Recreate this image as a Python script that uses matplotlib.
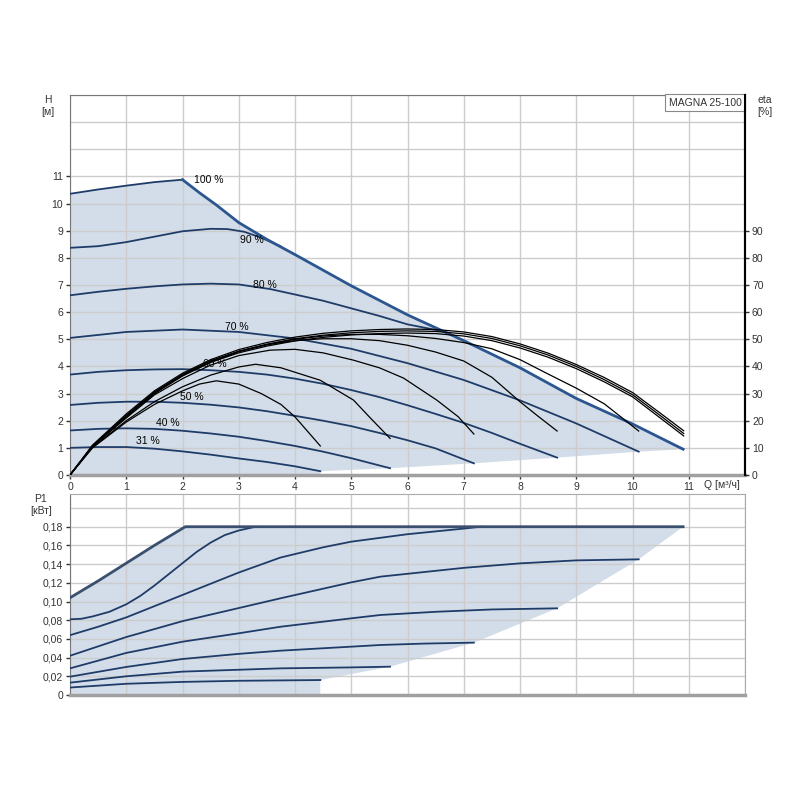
import matplotlib
matplotlib.use('Agg')
import matplotlib.pyplot as plt
import numpy as np

plt.rcParams['font.family'] = ['Liberation Sans', 'DejaVu Sans']

# ---- head curves H [m] over Q [m3/h] ----
q_max = [2.0, 2.3, 2.6, 3.0, 3.5, 4.0, 5.0, 6.0, 7.0, 8.0, 9.0, 10.0, 10.9]
h_max = [10.88, 10.4, 9.95, 9.3, 8.68, 8.12, 6.97, 5.9, 4.95, 3.95, 2.82, 1.88, 0.95]

q100 = [0, 0.5, 1, 1.5, 2.0]
h100 = [10.36, 10.52, 10.66, 10.79, 10.88]
q90 = [0, 0.5, 1, 1.5, 2, 2.5, 2.8, 3.1, 3.4, 3.75]
h90 = [8.37, 8.43, 8.58, 8.78, 8.98, 9.07, 9.06, 8.96, 8.74, 8.42]
q80 = [0, 0.5, 1, 1.5, 2, 2.5, 3, 3.56, 4, 4.5, 5, 5.5, 6, 6.64]
h80 = [6.62, 6.75, 6.86, 6.95, 7.02, 7.05, 7.02, 6.85, 6.65, 6.42, 6.14, 5.86, 5.55, 5.29]
q70 = [0, 1, 2, 3, 4, 5, 6, 7, 8, 9, 10.11]
h70 = [5.05, 5.27, 5.36, 5.27, 5.03, 4.65, 4.12, 3.5, 2.75, 1.9, 0.86]
q60 = [0, 0.5, 1, 1.5, 2, 2.5, 3, 3.5, 4, 4.5, 5, 5.5, 6, 6.5, 7, 7.5, 8, 8.66]
h60 = [3.70, 3.80, 3.86, 3.89, 3.90, 3.86, 3.80, 3.70, 3.55, 3.36, 3.13, 2.87, 2.57, 2.25, 1.92, 1.55, 1.15, 0.64]
q50 = [0, 0.5, 1, 1.5, 2, 2.5, 3, 3.5, 4, 4.5, 5, 5.5, 6, 6.5, 7.18]
h50 = [2.58, 2.66, 2.70, 2.70, 2.66, 2.59, 2.49, 2.35, 2.18, 2.0, 1.80, 1.55, 1.28, 0.98, 0.43]
q40 = [0, 0.5, 1, 1.5, 2, 2.5, 3, 3.5, 4, 4.5, 5, 5.69]
h40 = [1.64, 1.70, 1.72, 1.70, 1.63, 1.53, 1.41, 1.25, 1.07, 0.86, 0.62, 0.25]
q31 = [0, 0.5, 1, 1.5, 2, 2.5, 3, 3.5, 4, 4.45]
h31 = [1.0, 1.03, 1.03, 0.97, 0.87, 0.75, 0.61, 0.48, 0.32, 0.14]

# lower edge of the operating area (curve ends)
q_end = [10.9, 10.11, 8.66, 7.18, 5.69, 4.45]
h_end = [0.95, 0.86, 0.64, 0.43, 0.25, 0.14]

# ---- efficiency eta [%] ----
qe100 = [0, 0.4, 1, 1.5, 2, 2.5, 3, 3.5, 4, 4.5, 5, 5.5, 6, 6.5, 7, 7.5, 8, 8.5, 9, 9.5, 10, 10.5, 10.91]
e100 = [0, 11, 22.5, 31, 37.5, 42.5, 46.2, 48.8, 50.8, 52.2, 53.1, 53.6, 53.8, 53.6, 52.7, 51.0, 48.3, 44.9, 40.7, 35.9, 30.4, 22.7, 16.3]
e90 = [0, 10.8, 22, 30.6, 37, 42, 45.6, 48.2, 50.2, 51.5, 52.4, 52.9, 53.1, 52.9, 52.0, 50.3, 47.6, 44.2, 40.0, 35.1, 29.6, 21.8, 15.3]
e80 = [0, 10.6, 21.6, 30.2, 36.6, 41.5, 45.0, 47.5, 49.4, 50.7, 51.6, 52.1, 52.3, 52.1, 51.2, 49.5, 46.8, 43.4, 39.2, 34.3, 28.8, 20.9, 14.4]
qe70 = [0, 0.4, 1, 1.5, 2, 2.5, 3, 3.5, 4, 4.5, 5, 5.5, 6, 6.5, 7, 7.5, 8, 8.5, 9, 9.5, 10.11]
e70 = [0, 10.5, 21.5, 30, 37, 42, 45.5, 48, 50, 51.2, 51.8, 51.8, 51.3, 50.3, 48.8, 46.5, 42.5, 37.2, 32, 26.2, 16.2]
qe60 = [0, 0.4, 1, 1.5, 2, 2.5, 3, 3.5, 4, 4.5, 5, 5.5, 6, 6.5, 7, 7.5, 8, 8.3, 8.66]
e60 = [0, 10.5, 21.5, 30, 36.5, 41.5, 45.5, 48, 49.5, 50.2, 50.2, 49.5, 47.8, 45.3, 42, 36, 27, 22, 16.2]
qe50 = [0, 0.4, 1, 1.5, 2, 2.5, 3, 3.56, 4.0, 4.5, 5.04, 5.5, 5.93, 6.52, 6.9, 7.18]
e50 = [0, 10.5, 21, 29.5, 35.5, 40.5, 44, 46, 46.3, 45, 42.3, 39.5, 35.7, 27.6, 21.5, 15.1]
qe40 = [0, 0.4, 1, 1.5, 2, 2.5, 3, 3.3, 3.75, 4.45, 5.04, 5.34, 5.69]
e40 = [0, 10.2, 20, 27, 32.5, 36.8, 39.8, 40.8, 39.5, 34.9, 27.6, 21, 13.5]
qe31 = [0, 0.4, 1, 1.5, 2, 2.3, 2.6, 3, 3.4, 3.75, 4.0, 4.45]
e31 = [0, 10, 19.5, 26, 31, 33.5, 34.7, 33.5, 30, 26, 21.4, 10.7]

# ---- power input P1 [kW] ----
qp100 = [0, 0.5, 1, 1.5, 2.05, 10.9]
p100 = [0.104, 0.122, 0.141, 0.160, 0.180, 0.180]
qp90 = [0, 0.2, 0.4, 0.7, 1, 1.25, 1.5, 1.75, 2, 2.25, 2.5, 2.75, 3, 3.3]
p90 = [0.081, 0.0815, 0.084, 0.089, 0.097, 0.106, 0.117, 0.129, 0.141, 0.153, 0.163, 0.171, 0.176, 0.180]
qp80 = [0, 0.5, 1, 1.5, 2, 2.5, 3, 3.74, 4.5, 5, 5.5, 6, 6.5, 7, 7.3]
p80 = [0.064, 0.073, 0.083, 0.095, 0.107, 0.119, 0.131, 0.147, 0.158, 0.164, 0.168, 0.172, 0.175, 0.178, 0.180]
qp70 = [0, 1, 2, 3, 3.74, 5, 5.52, 7, 8, 9, 10.11]
p70 = [0.042, 0.062, 0.079, 0.093, 0.1034, 0.1205, 0.1266, 0.136, 0.1408, 0.144, 0.1451]
qp60 = [0, 1, 2, 3, 3.74, 5, 5.52, 6.5, 7.5, 8.66]
p60 = [0.0285, 0.045, 0.057, 0.066, 0.073, 0.082, 0.0856, 0.089, 0.0915, 0.0927]
qp50 = [0, 1, 2, 3, 3.74, 5, 5.52, 6.3, 7.18]
p50 = [0.0196, 0.030, 0.0385, 0.044, 0.0474, 0.0517, 0.0535, 0.055, 0.056]
qp40 = [0, 1, 2, 3, 3.74, 4.98, 5.69]
p40 = [0.0132, 0.020, 0.025, 0.027, 0.0285, 0.0295, 0.0303]
qp31 = [0, 1, 2, 3, 4.45]
p31 = [0.008, 0.012, 0.014, 0.0152, 0.016]
p_end = [0.180, 0.1451, 0.0927, 0.056, 0.0303, 0.016]

labels = ['100 %', '90 %', '80 %', '70 %', '60 %', '50 %', '40 %', '31 %']
label_q = [2.2, 3.23, 3.47, 2.97, 2.58, 2.17, 1.73, 1.39]
label_h = [10.88, 8.64, 6.99, 5.44, 4.08, 2.87, 1.91, 1.25]

fill_c = '#d3dde9'
line_c = '#1f3c68'
grid_c = '#cccccc'
txt_c = '#333333'
fs = 7.5

fig = plt.figure(figsize=(8, 8), dpi=100)
ax = fig.add_axes([0.0875, 0.40625, 0.84375, 0.475])
axp = fig.add_axes([0.0875, 0.13125, 0.84375, 0.25125])

# ---------- top: H ----------
poly_q = [0] + q100 + q_max[1:] + q_end[1:] + [q_end[-1], 0]
poly_h = [0] + h100 + h_max[1:] + h_end[1:] + [0, 0]
ax.fill(poly_q, poly_h, color=fill_c, lw=0, zorder=1)

for q, h in [(q100, h100), (q90, h90), (q80, h80), (q70, h70), (q60, h60),
             (q50, h50), (q40, h40), (q31, h31)]:
    ax.plot(q, h, color=line_c, lw=1.3, zorder=3, solid_joinstyle='round')
ax.plot(q_max, h_max, color='#2b5690', lw=2.0, zorder=3, solid_joinstyle='round')

for t, x, y in zip(labels, label_q, label_h):
    ax.text(x, y, t, fontsize=fs, color='black', ha='left' if t == '100 %' else 'center',
            va='center', zorder=5)

ax.set_xlim(0, 12)
ax.set_ylim(0, 14)
ax.set_xticks(range(0, 12))
ax.set_xticks(range(0, 13), minor=True)
ax.set_yticks(range(0, 12))
ax.set_yticks(range(0, 15), minor=True)
ax.grid(True, which='both', color=grid_c, lw=1.0, zorder=2)
ax.tick_params(which='minor', length=0)
ax.tick_params(labelsize=fs, colors=txt_c, length=3, width=1, pad=2)
for s in ['top', 'left']:
    ax.spines[s].set_color('#777777')
ax.spines['right'].set_color('black')
ax.spines['right'].set_linewidth(1.5)
ax.spines['bottom'].set_color('#a0a0a0')
ax.spines['bottom'].set_linewidth(2.5)
ax.text(-0.033, 1.0, 'H\n[м]', transform=ax.transAxes, fontsize=fs, color=txt_c,
        ha='center', va='top', linespacing=1.3)
ax.text(0.94, -0.012, 'Q [м³/ч]', transform=ax.transAxes, fontsize=fs, color=txt_c,
        ha='left', va='top')
ax.text(0.995, 0.993, 'MAGNA 25-100', transform=ax.transAxes, fontsize=fs,
        color=txt_c, ha='right', va='top', zorder=6,
        bbox=dict(boxstyle='square,pad=0.35', fc='white', ec='#888888', lw=0.8))

# efficiency on right axis
ae = ax.twinx()
ae.set_ylim(0, 140)
ae.set_yticks(range(0, 100, 10))
for q, e in [(qe100, e100), (qe100, e90), (qe100, e80), (qe70, e70), (qe60, e60),
             (qe50, e50), (qe40, e40), (qe31, e31)]:
    ae.plot(q, e, color='black', lw=0.9, zorder=4, solid_joinstyle='round')
ae.tick_params(labelsize=fs, colors=txt_c, length=3, width=1, pad=2)
ae.spines['right'].set_color('black')
ae.spines['right'].set_linewidth(1.5)
for s in ['top', 'left', 'bottom']:
    ae.spines[s].set_visible(False)
ae.text(1.03, 1.0, 'eta\n[%]', transform=ae.transAxes, fontsize=fs, color=txt_c,
        ha='center', va='top', linespacing=1.3)

# ---------- bottom: P1 ----------
ppoly_q = [0] + qp100 + q_end[1:] + [q_end[-1], 0]
ppoly_p = [0] + p100 + p_end[1:] + [0, 0]
axp.fill(ppoly_q, ppoly_p, color=fill_c, lw=0, zorder=1)
for q, p in [(qp90, p90), (qp80, p80), (qp70, p70), (qp60, p60),
             (qp50, p50), (qp40, p40), (qp31, p31)]:
    axp.plot(q, p, color=line_c, lw=1.3, zorder=3, solid_joinstyle='round')
axp.plot(qp100, p100, color='#3a506e', lw=2.0, zorder=3)

axp.set_xlim(0, 12)
axp.set_ylim(0, 0.215)
axp.set_xticks(range(0, 13))
axp.set_xticklabels([])
pt = np.arange(0, 0.19, 0.02)
axp.set_yticks(pt)
axp.set_yticklabels(['0'] + [('%.2f' % v).replace('.', ',') for v in pt[1:]])
axp.set_yticks([0.20], minor=True)
axp.grid(True, which='both', color=grid_c, lw=1.0, zorder=2)
axp.tick_params(which='minor', length=0)
axp.tick_params(axis='x', length=0)
axp.tick_params(axis='y', labelsize=fs, colors=txt_c, length=3, width=1, pad=2)
for s in ['top', 'right']:
    axp.spines[s].set_color('#aaaaaa')
axp.spines['left'].set_color('#777777')
axp.spines['bottom'].set_color('#a0a0a0')
axp.spines['bottom'].set_linewidth(2.5)
axp.text(-0.043, 1.0, 'P1\n[кВт]', transform=axp.transAxes, fontsize=fs, color=txt_c,
         ha='center', va='top', linespacing=1.3)

fig.savefig('out.png', dpi=100, facecolor='white')
